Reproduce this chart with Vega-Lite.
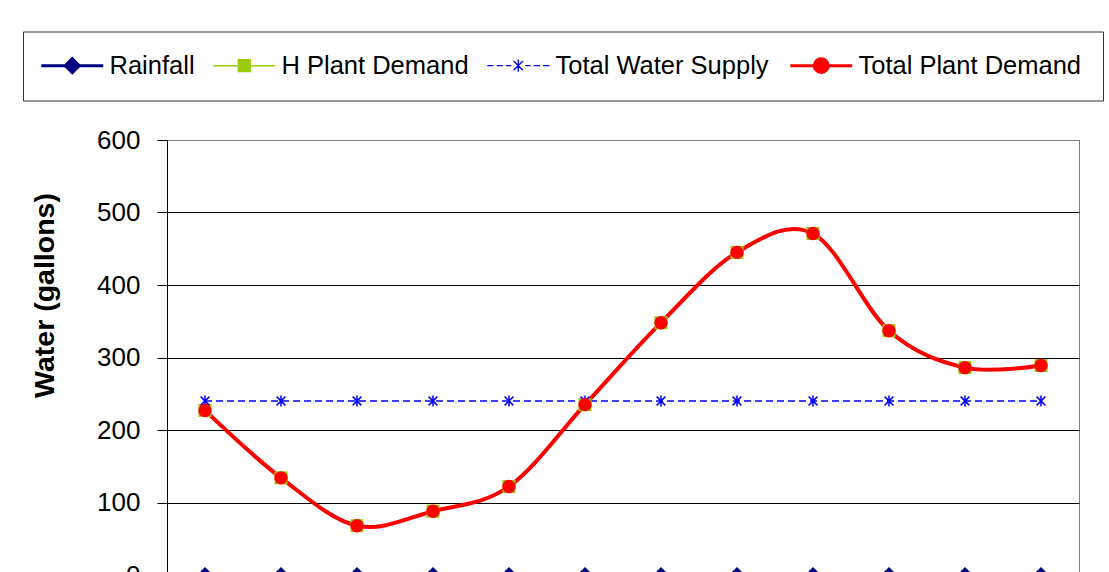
{
  "$schema": "https://vega.github.io/schema/vega-lite/v6.json",
  "width": 912,
  "height": 435,
  "autosize": "none",
  "padding": {"left": 167, "top": 140, "right": 30, "bottom": 0},
  "background": "white",
  "config": {"font": "Liberation Sans", "view": {"stroke": "#808080", "strokeWidth": 1}},
  "data": {"values": [
    {"month": 1, "series": "Rainfall", "water": 0},
    {"month": 2, "series": "Rainfall", "water": 0},
    {"month": 3, "series": "Rainfall", "water": 0},
    {"month": 4, "series": "Rainfall", "water": 0},
    {"month": 5, "series": "Rainfall", "water": 0},
    {"month": 6, "series": "Rainfall", "water": 0},
    {"month": 7, "series": "Rainfall", "water": 0},
    {"month": 8, "series": "Rainfall", "water": 0},
    {"month": 9, "series": "Rainfall", "water": 0},
    {"month": 10, "series": "Rainfall", "water": 0},
    {"month": 11, "series": "Rainfall", "water": 0},
    {"month": 12, "series": "Rainfall", "water": 0},
    {"month": 1, "series": "H Plant Demand", "water": 227},
    {"month": 2, "series": "H Plant Demand", "water": 134},
    {"month": 3, "series": "H Plant Demand", "water": 68},
    {"month": 4, "series": "H Plant Demand", "water": 88},
    {"month": 5, "series": "H Plant Demand", "water": 122},
    {"month": 6, "series": "H Plant Demand", "water": 235},
    {"month": 7, "series": "H Plant Demand", "water": 348},
    {"month": 8, "series": "H Plant Demand", "water": 445},
    {"month": 9, "series": "H Plant Demand", "water": 471},
    {"month": 10, "series": "H Plant Demand", "water": 337},
    {"month": 11, "series": "H Plant Demand", "water": 286},
    {"month": 12, "series": "H Plant Demand", "water": 289},
    {"month": 1, "series": "Total Water Supply", "water": 240},
    {"month": 2, "series": "Total Water Supply", "water": 240},
    {"month": 3, "series": "Total Water Supply", "water": 240},
    {"month": 4, "series": "Total Water Supply", "water": 240},
    {"month": 5, "series": "Total Water Supply", "water": 240},
    {"month": 6, "series": "Total Water Supply", "water": 240},
    {"month": 7, "series": "Total Water Supply", "water": 240},
    {"month": 8, "series": "Total Water Supply", "water": 240},
    {"month": 9, "series": "Total Water Supply", "water": 240},
    {"month": 10, "series": "Total Water Supply", "water": 240},
    {"month": 11, "series": "Total Water Supply", "water": 240},
    {"month": 12, "series": "Total Water Supply", "water": 240},
    {"month": 1, "series": "Total Plant Demand", "water": 227},
    {"month": 2, "series": "Total Plant Demand", "water": 134},
    {"month": 3, "series": "Total Plant Demand", "water": 68},
    {"month": 4, "series": "Total Plant Demand", "water": 88},
    {"month": 5, "series": "Total Plant Demand", "water": 122},
    {"month": 6, "series": "Total Plant Demand", "water": 235},
    {"month": 7, "series": "Total Plant Demand", "water": 348},
    {"month": 8, "series": "Total Plant Demand", "water": 445},
    {"month": 9, "series": "Total Plant Demand", "water": 471},
    {"month": 10, "series": "Total Plant Demand", "water": 337},
    {"month": 11, "series": "Total Plant Demand", "water": 286},
    {"month": 12, "series": "Total Plant Demand", "water": 289}
  ]},
  "encoding": {
    "x": {"field": "month", "type": "ordinal", "scale": {"type": "point", "padding": 0.5},
      "axis": {"title": null, "labelFontSize": 26, "labelAngle": 0, "labelColor": "black", "tickColor": "black", "domainColor": "black", "tickSize": 10, "grid": false}},
    "y": {"field": "water", "type": "quantitative", "scale": {"domain": [0, 600], "nice": false, "zero": true},
      "axis": {"title": "Water (gallons)", "titleFont": "Liberation Sans", "titleFontSize": 28.5, "titleFontWeight": "bold", "titleColor": "black", "titlePadding": 37, "titleY": 155,
        "labelFont": "Liberation Sans", "labelFontSize": 26, "labelColor": "black", "labelPadding": 17, "tickSize": 10, "tickColor": "black", "domainColor": "black",
        "values": [0, 100, 200, 300, 400, 500, 600], "grid": true,
        "gridColor": {"condition": {"test": "datum.value === 600", "value": "#808080"}, "value": "black"}}},
    "color": {"field": "series", "type": "nominal",
      "scale": {"domain": ["Rainfall", "H Plant Demand", "Total Water Supply", "Total Plant Demand"], "range": ["#000080", "#99CC00", "#0000FF", "#FF0000"]},
      "legend": {"orient": "none", "legendX": -144, "legendY": -108.5, "direction": "horizontal", "title": null,
        "strokeColor": "#333333", "padding": 21, "symbolSize": 961, "labelFont": "Liberation Sans", "labelFontSize": 25.5, "labelColor": "black",
        "labelOffset": 40, "labelLimit": 400, "columnPadding": 15, "symbolStrokeWidth": 3,
        "encode": {"symbols": {"update": {
          "shape": {"signal": "datum.value === 'Rainfall' ? 'M-1,0H3M1,-0.45L1.45,0L1,0.45L0.55,0Z' : datum.value === 'H Plant Demand' ? 'M-1,0H3M0.62,-0.38H1.38V0.38H0.62Z' : datum.value === 'Total Water Supply' ? 'M-1,0H-0.6M-0.4,0H0M0.2,0H0.55M1.45,0H1.8M2,0H2.4M2.6,0H3M0.7,-0.3L1.3,0.3M0.7,0.3L1.3,-0.3M1,-0.4V0.4' : 'M-1,0H3M0.55,0A0.45,0.45 0 1,0 1.45,0A0.45,0.45 0 1,0 0.55,0Z'"},
          "fill": {"signal": "scale('color', datum.value)"},
          "stroke": {"signal": "scale('color', datum.value)"},
          "strokeWidth": {"signal": "datum.value === 'H Plant Demand' ? 1.5 : datum.value === 'Total Water Supply' ? 1.3 : 3"},
          "strokeDash": {"value": []},
          "opacity": {"value": 1}
        }}}}}
  },
  "layer": [
    {"transform": [{"filter": "datum.series === 'Rainfall'"}], "mark": {"type": "line", "strokeWidth": 3.5}},
    {"transform": [{"filter": "datum.series === 'H Plant Demand'"}], "mark": {"type": "line", "strokeWidth": 2, "interpolate": "cardinal"}},
    {"transform": [{"filter": "datum.series === 'Total Water Supply'"}], "mark": {"type": "line", "strokeWidth": 1.5, "strokeDash": [7, 4]}},
    {"transform": [{"filter": "datum.series === 'Total Plant Demand'"}], "mark": {"type": "line", "strokeWidth": 4, "interpolate": "cardinal"}},
    {"transform": [{"filter": "datum.series === 'Rainfall'"}], "mark": {"type": "point", "shape": "diamond", "size": 256, "filled": true, "opacity": 1}},
    {"transform": [{"filter": "datum.series === 'H Plant Demand'"}], "mark": {"type": "point", "shape": "square", "size": 169, "filled": true, "opacity": 1}},
    {"transform": [{"filter": "datum.series === 'Total Water Supply'"}], "mark": {"type": "point", "shape": "M-0.8,-0.8L0.8,0.8M-0.8,0.8L0.8,-0.8M0,-1V1", "size": 121, "filled": false, "strokeWidth": 1.5, "opacity": 1}},
    {"transform": [{"filter": "datum.series === 'Total Plant Demand'"}], "mark": {"type": "point", "shape": "circle", "size": 180, "filled": true, "opacity": 1}}
  ]
}
